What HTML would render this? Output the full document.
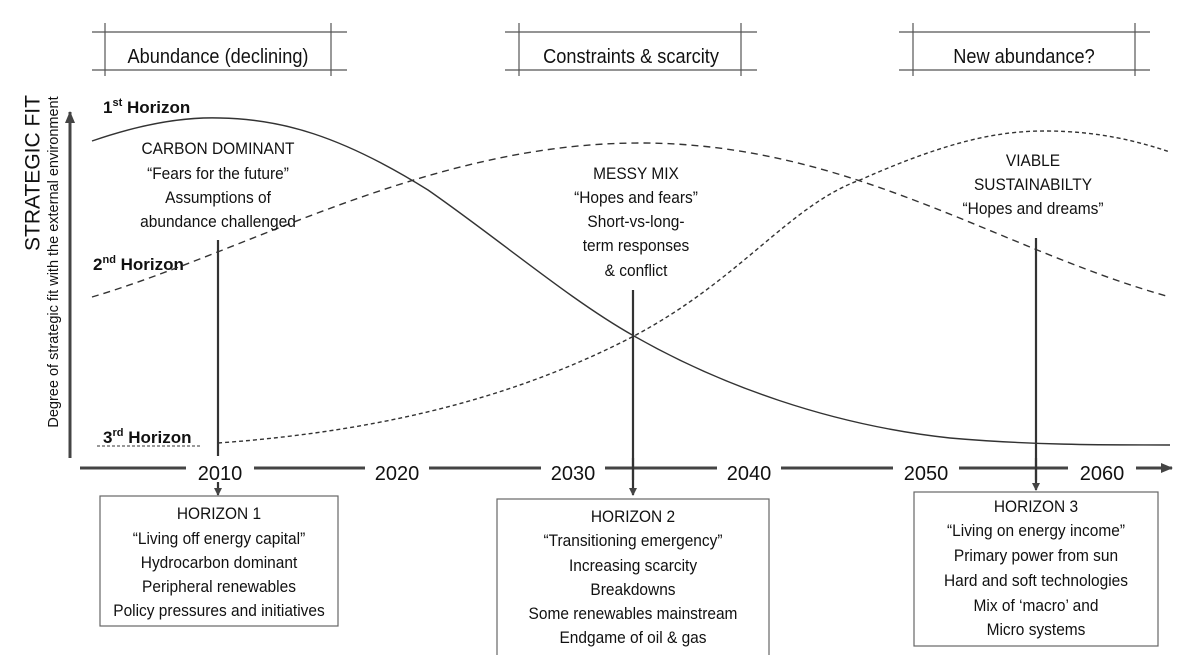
<!DOCTYPE html>
<html><head><meta charset="utf-8"><style>
html,body{margin:0;padding:0;background:#fff;}
svg{display:block;}
.n text{font-family:"Liberation Sans",sans-serif;font-size:17px;fill:#111;text-anchor:middle;transform-box:fill-box;transform-origin:center;transform:scaleX(0.91);}
.h{font-family:"Liberation Sans",sans-serif;font-weight:bold;font-size:17px;fill:#111;}
.y{font-family:"Liberation Sans",sans-serif;font-size:20px;fill:#111;text-anchor:middle;}
</style></head><body>
<svg width="1200" height="655" viewBox="0 0 1200 655" xmlns="http://www.w3.org/2000/svg">
<defs><marker id="a" markerWidth="8" markerHeight="8" refX="7" refY="4" orient="auto" markerUnits="userSpaceOnUse"><path d="M0,0 L8,4 L0,8 z" fill="#444"/></marker>
<marker id="b" markerWidth="12" markerHeight="10" refX="11" refY="5" orient="auto" markerUnits="userSpaceOnUse"><path d="M0,0 L12,5 L0,10 z" fill="#444"/></marker></defs>
<g stroke="#555" stroke-width="1.2" fill="none">
<line x1="92" y1="32" x2="347" y2="32"/><line x1="92" y1="70" x2="347" y2="70"/><line x1="105" y1="23" x2="105" y2="76"/><line x1="331" y1="23" x2="331" y2="76"/>
<line x1="505" y1="32" x2="757" y2="32"/><line x1="505" y1="70" x2="757" y2="70"/><line x1="519" y1="23" x2="519" y2="76"/><line x1="741" y1="23" x2="741" y2="76"/>
<line x1="899" y1="32" x2="1150" y2="32"/><line x1="899" y1="70" x2="1150" y2="70"/><line x1="913" y1="23" x2="913" y2="76"/><line x1="1135" y1="23" x2="1135" y2="76"/>
</g>
<g class="n">
<text x="218" y="63" style="font-size:20px">Abundance (declining)</text>
<text x="631" y="63" style="font-size:20px">Constraints &amp; scarcity</text>
<text x="1024" y="63" style="font-size:20px">New abundance?</text>
</g>
<line x1="70" y1="458" x2="70" y2="112" stroke="#444" stroke-width="3" marker-end="url(#b)"/>
<text x="34" y="173" transform="rotate(-90 34 173)" font-family="Liberation Sans,sans-serif" font-size="21" fill="#111" text-anchor="middle" dominant-baseline="middle">STRATEGIC FIT</text>
<text x="54" y="262" transform="rotate(-90 54 262)" font-family="Liberation Sans,sans-serif" font-size="14.5" fill="#111" text-anchor="middle" dominant-baseline="middle">Degree of strategic fit with the external environment</text>
<text class="h" x="103" y="113">1<tspan font-size="11" dy="-7">st</tspan><tspan dy="7"> Horizon</tspan></text>
<text class="h" x="93" y="270">2<tspan font-size="11" dy="-7">nd</tspan><tspan dy="7"> Horizon</tspan></text>
<text class="h" x="103" y="443">3<tspan font-size="11" dy="-7">rd</tspan><tspan dy="7"> Horizon</tspan></text>
<g fill="none" stroke="#333" stroke-width="1.4">
<path d="M92,141 C150,121 190,117 220,118 C280,119 340,135 428,190 C500,240 570,300 634,336 C720,385 830,425 950,438 C1030,445 1100,445 1170,445"/>
<path d="M92,297 C250,250 430,143 640,143 C850,143 1000,250 1170,297" stroke-dasharray="7,5"/>
<path d="M218,443 C400,430 530,390 634,336 C740,280 790,205 860,180 C950,140 1000,131 1045,131 C1100,131 1140,142 1170,152" stroke-dasharray="4,3"/>
<line x1="97" y1="446" x2="200" y2="446" stroke-dasharray="3,2" stroke-width="1"/>
</g>
<g stroke="#333" stroke-width="2.2">
<line x1="218" y1="240" x2="218" y2="456"/>
<line x1="633" y1="290" x2="633" y2="495" marker-end="url(#a)"/>
<line x1="1036" y1="238" x2="1036" y2="490" marker-end="url(#a)"/>
<line x1="218" y1="482" x2="218" y2="495" marker-end="url(#a)"/>
</g>
<line x1="80" y1="468" x2="1172" y2="468" stroke="#444" stroke-width="3" marker-end="url(#b)"/>
<g fill="#fff">
<rect x="186" y="458" width="68" height="22"/><rect x="365" y="458" width="64" height="22"/><rect x="541" y="458" width="64" height="22"/>
<rect x="717" y="458" width="64" height="22"/><rect x="893" y="458" width="66" height="22"/><rect x="1068" y="458" width="68" height="22"/>
</g>
<line x1="633" y1="458" x2="633" y2="480" stroke="#333" stroke-width="2.2"/>
<line x1="1036" y1="458" x2="1036" y2="480" stroke="#333" stroke-width="2.2"/>
<text class="y" x="220" y="480">2010</text><text class="y" x="397" y="480">2020</text><text class="y" x="573" y="480">2030</text>
<text class="y" x="749" y="480">2040</text><text class="y" x="926" y="480">2050</text><text class="y" x="1102" y="480">2060</text>
<g class="n">
<text x="218" y="154">CARBON DOMINANT</text><text x="218" y="179">“Fears for the future”</text><text x="218" y="203">Assumptions of</text><text x="218" y="227">abundance challenged</text>
<text x="636" y="179">MESSY MIX</text><text x="636" y="203">“Hopes and fears”</text><text x="636" y="227">Short-vs-long-</text><text x="636" y="251">term responses</text><text x="636" y="276">&amp; conflict</text>
<text x="1033" y="166">VIABLE</text><text x="1033" y="190">SUSTAINABILTY</text><text x="1033" y="214">“Hopes and dreams”</text>
</g>
<g fill="#fff" stroke="#666" stroke-width="1.2">
<rect x="100" y="496" width="238" height="130"/><rect x="497" y="499" width="272" height="160"/><rect x="914" y="492" width="244" height="154"/>
</g>
<g class="n">
<text x="219" y="519">HORIZON 1</text><text x="219" y="544">“Living off energy capital”</text><text x="219" y="568">Hydrocarbon dominant</text><text x="219" y="592">Peripheral renewables</text><text x="219" y="616">Policy pressures and initiatives</text>
<text x="633" y="522">HORIZON 2</text><text x="633" y="546">“Transitioning emergency”</text><text x="633" y="571">Increasing scarcity</text><text x="633" y="595">Breakdowns</text><text x="633" y="619">Some renewables mainstream</text><text x="633" y="643">Endgame of oil &amp; gas</text>
<text x="1036" y="512">HORIZON 3</text><text x="1036" y="536">“Living on energy income”</text><text x="1036" y="561">Primary power from sun</text><text x="1036" y="586">Hard and soft technologies</text><text x="1036" y="611">Mix of ‘macro’ and</text><text x="1036" y="635">Micro systems</text>
</g>
</svg>
</body></html>
